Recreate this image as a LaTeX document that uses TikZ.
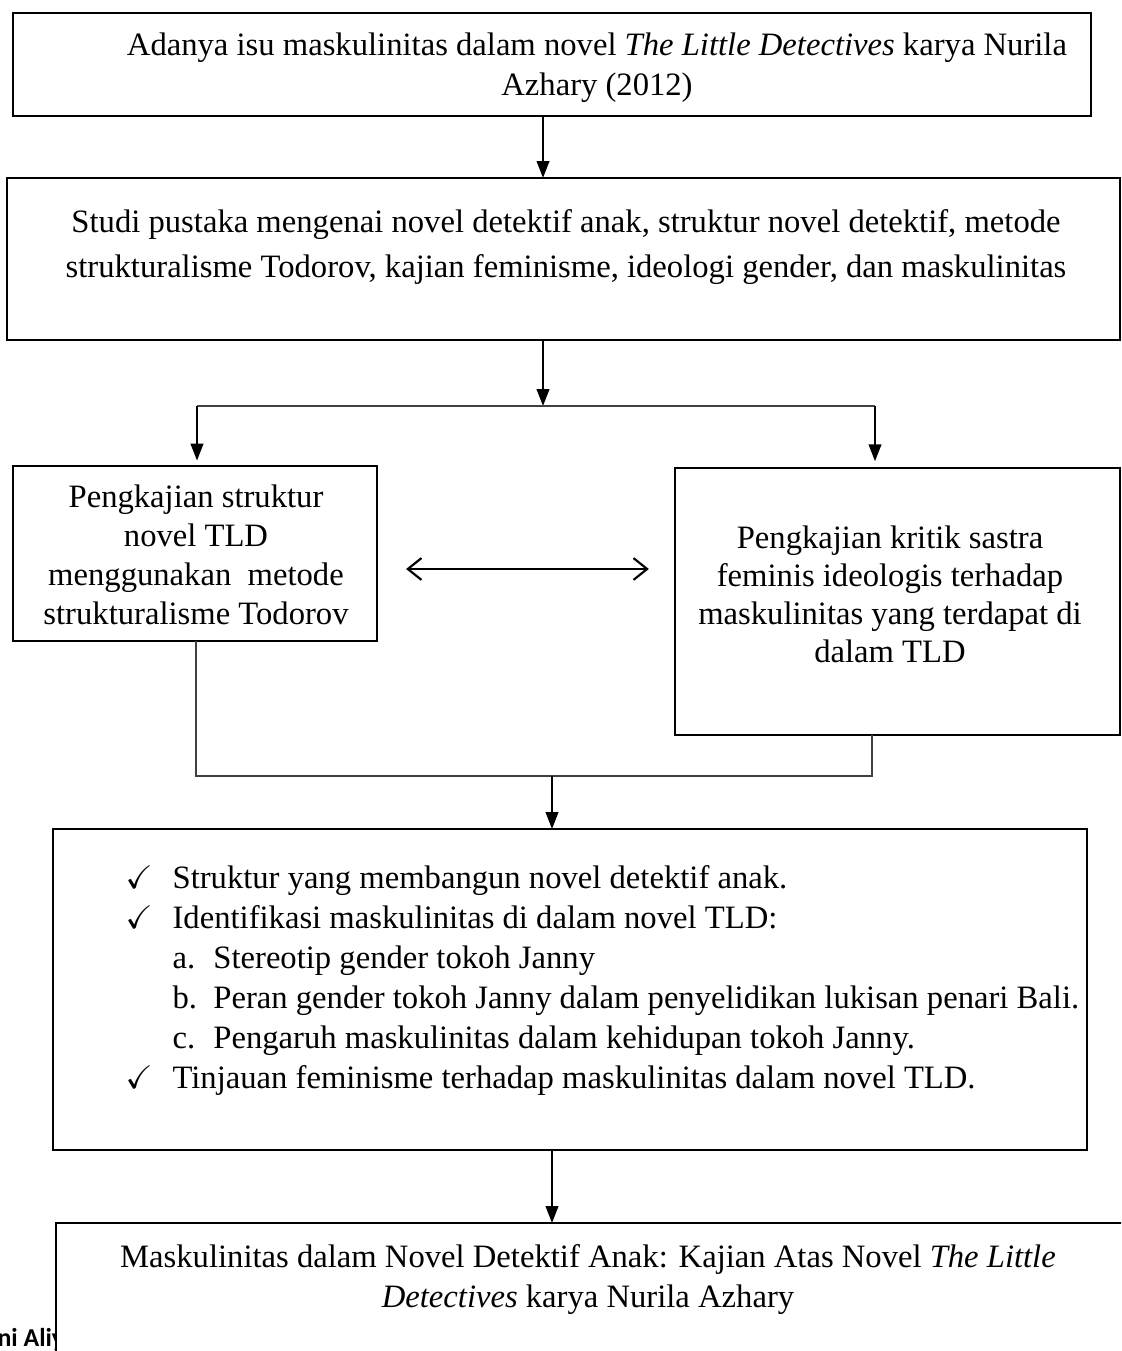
\documentclass[tikz,border=0pt]{standalone}
\usepackage{amssymb}
\usepackage{fontspec}
\setmainfont{Liberation Serif}
\newfontfamily\kakifont{Carlito}
\usepackage{tikz}
\usetikzlibrary{arrows.meta}
\tikzset{
  font={\fontsize{12pt}{14.7pt}\selectfont},
  kotak/.style={draw=black, line width=0.8pt, rectangle, outer sep=0pt, fill=white},
  panah/.style={line width=0.8pt, -{Triangle[length=6.2pt,width=4.6pt]}},
  garis/.style={line width=0.45pt, black!75},
  duaarah/.style={line width=0.8pt, {Straight Barb[length=5pt,width=8pt]}-{Straight Barb[length=5pt,width=8pt]}}}

\begin{document}
\begin{tikzpicture}[x=0.3676pt,y=0.3676pt]
\tikzstyle{every node}+=[inner sep=0pt]
\clip (0,0) rectangle (1121,-1351);
\node [kotak, minimum width=396.3pt, minimum height=37.9pt] (isu) at (552,-64.5) {};
\node [align=center] (isuteks) at (597,-68) {Adanya isu maskulinitas dalam novel \textit{The Little Detectives} karya Nurila\\Azhary (2012)};
\node [kotak, minimum width=409.1pt, minimum height=59.6pt] (studi) at (563.5,-259) {};
\node [align=center, font={\fontsize{12pt}{16.5pt}\selectfont}] (studiteks) at (566,-247) {Studi pustaka mengenai novel detektif anak, struktur novel detektif, metode\\strukturalisme Todorov, kajian feminisme, ideologi gender, dan maskulinitas};
\node [kotak, minimum width=133.8pt, minimum height=64.3pt] (struktur) at (195,-553.5) {};
\node [align=center, font={\fontsize{12pt}{14.3pt}\selectfont}] (strukturteks) at (196,-555) {Pengkajian struktur\\novel TLD\\menggunakan\ \ metode\\strukturalisme Todorov};
\node [kotak, minimum width=163.6pt, minimum height=98.1pt] (kritik) at (897.5,-601.5) {};
\node [align=center, font={\fontsize{12pt}{14pt}\selectfont}] (kritikteks) at (890,-594) {Pengkajian kritik sastra\\feminis ideologis terhadap\\maskulinitas yang terdapat di\\dalam TLD};
\node [kotak, minimum width=380.1pt, minimum height=118pt] (temuan) at (570,-989.5) {};
\node [align=left, anchor=west] (temuanteks) at (125,-980) {%
\makebox[17.3pt][l]{$\checkmark$}Struktur yang membangun novel detektif anak.\\
\makebox[17.3pt][l]{$\checkmark$}Identifikasi maskulinitas di dalam novel TLD:\\
\hspace*{17.3pt}\makebox[15pt][l]{a.}Stereotip gender tokoh Janny\\
\hspace*{17.3pt}\makebox[15pt][l]{b.}Peran gender tokoh Janny dalam penyelidikan lukisan penari Bali.\\
\hspace*{17.3pt}\makebox[15pt][l]{c.}Pengaruh maskulinitas dalam kehidupan tokoh Janny.\\
\makebox[17.3pt][l]{$\checkmark$}Tinjauan feminisme terhadap maskulinitas dalam novel TLD.};
\node [anchor=base west, font={\kakifont\bfseries\fontsize{9.5pt}{11pt}\selectfont}] (kaki) at (-3,-1346) {ni Aliy};
\node [kotak, anchor=north west, minimum width=404.4pt, minimum height=73.5pt] (hasil) at (56,-1223) {};
\node [align=center] (hasilteks) at (588,-1280) {Maskulinitas dalam Novel Detektif Anak: Kajian Atas Novel \textit{The Little}\\\textit{Detectives} karya Nurila Azhary};
% penghubung
\coordinate (cabang) at (543,-406);
\coordinate (kiri) at (197,-406);
\coordinate (kanan) at (875,-406);
\coordinate (tengah) at (0,-569);
\coordinate (kiribawah) at (196,-776);
\coordinate (kananbawah) at (872,-776);
\coordinate (gabung) at (552,-776);
\draw [panah] (isu.south -| cabang) -- (studi.north -| cabang);
\draw [panah] (studi.south -| cabang) -- (cabang);
\draw [garis] (kiri) -- (kanan);
\draw [panah, shorten >=2pt] (kiri) -- (struktur.north -| kiri);
\draw [panah, shorten >=2.5pt] (kanan) -- (kritik.north -| kanan);
\draw [duaarah, shorten <=10.7pt, shorten >=9.6pt] (struktur.east |- tengah) -- (kritik.west |- tengah);
\draw [garis] (struktur.south -| kiribawah) -- (kiribawah) -- (kananbawah) -- (kritik.south -| kananbawah);
\draw [panah] (gabung) -- (temuan.north -| gabung);
\draw [panah] (temuan.south -| gabung) -- (hasil.north -| gabung);
\end{tikzpicture}
\end{document}
